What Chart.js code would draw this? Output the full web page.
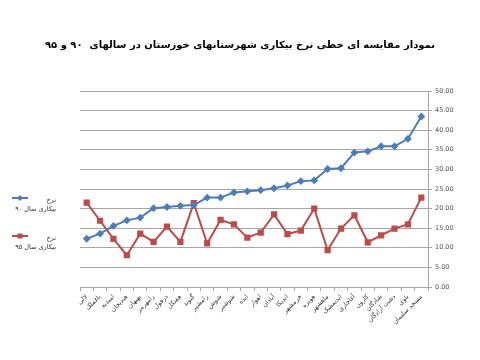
<!DOCTYPE html>
<html>
<head>
<meta charset="utf-8">
<script src="https://cdn.jsdelivr.net/npm/chart.js@4/dist/chart.umd.min.js"></script>
<style>
  html, body { margin: 0; padding: 0; background: #fff; }
  #wrap { width: 480px; height: 360px; }
</style>
</head>
<body>
<div id="wrap"><canvas id="chart" width="480" height="360"></canvas></div>
<script>
// counties (x axis)
const counties = ["لالی", "باغملک", "امیدیه", "هندیجان", "بهبهان", "رامهرمز", "دزفول", "هفتکل", "گتوند", "رامشیر", "شوش", "شوشتر", "ایذه", "اهواز", "آبادان", "اندیکا", "خرمشهر", "هویزه", "ماهشهر", "اندیمشک", "آغاجاری", "کارون", "شادگان", "دشت آزادگان", "باوی", "مسجد سلیمان"];

// unemployment rate, year 90
const rate90 = [12.3, 13.6, 15.6, 17.0, 17.7, 20.1, 20.4, 20.7, 20.9, 22.8, 22.8, 24.1, 24.4, 24.7, 25.2, 25.9, 27.0, 27.2, 30.1, 30.3, 34.3, 34.6, 35.9, 35.9, 37.8, 43.5];

// unemployment rate, year 95
const rate95 = [21.5, 16.9, 12.3, 8.1, 13.6, 11.5, 15.4, 11.5, 21.4, 11.1, 17.1, 16.0, 12.6, 13.9, 18.5, 13.5, 14.4, 20.0, 9.4, 14.9, 18.3, 11.4, 13.2, 14.9, 16.0, 22.8];

const seriesNames = [["نرخ", "بیکاری سال ۹۰"], ["نرخ", "بیکاری سال ۹۵"]];
const chartTitle = "نمودار مقایسه ای خطی نرخ بیکاری شهرستانهای خوزستان در سالهای  ۹۰ و ۹۵";

const FONT = "'DejaVu Sans', sans-serif";
const BLUE = "#4a7ebb";
const RED = "#be4b48";
const GRID = "#a6a6a6";

function drawMarker(ctx, style, x, y, r, color) {
  ctx.save();
  ctx.fillStyle = color;
  ctx.beginPath();
  if (style === "rectRot") {
    ctx.moveTo(x, y - r);
    ctx.lineTo(x + r, y);
    ctx.lineTo(x, y + r);
    ctx.lineTo(x - r, y);
    ctx.closePath();
  } else {
    ctx.rect(x - r, y - r, 2 * r, 2 * r);
  }
  ctx.fill();
  ctx.restore();
}

// excel-like legend on the left, two-line labels
const sideLegend = {
  id: "sideLegend",
  afterDraw(chart) {
    const ctx = chart.ctx;
    chart.data.datasets.forEach((ds, i) => {
      const y = 198 + i * 38;
      ctx.save();
      ctx.strokeStyle = ds.borderColor;
      ctx.lineWidth = 2;
      ctx.beginPath();
      ctx.moveTo(12, y);
      ctx.lineTo(28, y);
      ctx.stroke();
      drawMarker(ctx, ds.pointStyle, 20, y, ds.pointStyle === "rect" ? 2.5 : 3, ds.borderColor);
      ctx.fillStyle = "#333";
      ctx.font = "6.5px " + FONT;
      ctx.textAlign = "right";
      ctx.textBaseline = "middle";
      ds.label.forEach((line, k) => {
        ctx.fillText(line, 56, y + 2 + k * 9);
      });
      ctx.restore();
    });
  }
};

new Chart(document.getElementById("chart"), {
  type: "line",
  data: {
    labels: counties,
    datasets: [
      {
        label: seriesNames[0],
        data: rate90,
        yAxisID: "y",
        borderColor: BLUE,
        backgroundColor: BLUE,
        borderWidth: 2,
        pointStyle: "rectRot",
        pointRadius: 2.5,
        tension: 0,
      },
      {
        label: seriesNames[1],
        data: rate95,
        yAxisID: "y",
        borderColor: RED,
        backgroundColor: RED,
        borderWidth: 2,
        pointStyle: "rect",
        pointRadius: 3,
        tension: 0,
      },
    ],
  },
  options: {
    responsive: false,
    animation: false,
    layout: { padding: 0 },
    plugins: {
      legend: { display: false },
      tooltip: { enabled: false },
      title: {
        display: true,
        text: chartTitle,
        color: "#000",
        font: { family: FONT, size: 10, weight: "bold", lineHeight: 1.2 },
        padding: { top: 39, bottom: 40 },
      },
    },
    scales: {
      x: {
        offset: true,
        grid: {
          display: true,
          offset: true,
          drawOnChartArea: false,
          drawTicks: true,
          tickLength: 4,
          color: GRID,
        },
        border: { display: true, color: GRID },
        ticks: {
          autoSkip: false,
          maxRotation: 45,
          minRotation: 45,
          padding: 2,
          color: "#333",
          font: { family: FONT, size: 6.5 },
        },
        afterFit(scale) {
          scale.height = 73;
        },
      },
      spacer: {
        type: "linear",
        position: "left",
        display: true,
        grid: { display: false },
        border: { display: false },
        ticks: { display: false },
        afterFit(scale) {
          scale.width = 80;
        },
      },
      y: {
        position: "right",
        min: 0,
        max: 50,
        grid: { color: GRID, tickLength: 4 },
        border: { display: true, color: GRID },
        ticks: {
          stepSize: 5,
          padding: 3,
          color: "#555",
          font: { family: FONT, size: 6.5 },
          callback: (v) => v.toFixed(2),
        },
        afterFit(scale) {
          scale.width = 52;
        },
      },
    },
  },
  plugins: [sideLegend],
});
</script>
</body>
</html>
